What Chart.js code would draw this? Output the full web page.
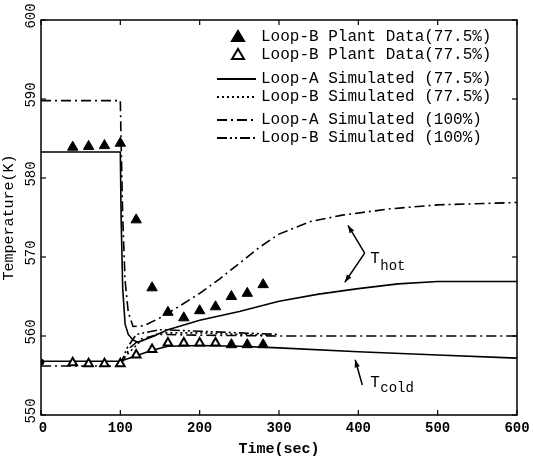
<!DOCTYPE html>
<html>
<head>
<meta charset="utf-8">
<script src="https://cdn.jsdelivr.net/npm/chart.js@4"></script>
<style>
  html, body { margin: 0; padding: 0; background: #fff; }
  #wrap { width: 533px; height: 462px; }
</style>
</head>
<body>
<div id="wrap"><canvas id="tempChart" width="533" height="462"></canvas></div>
<script>
// plant data (77.5%)
const hotPlantTime = [40, 60, 80, 100, 120, 140, 160, 180, 200, 220, 240, 260, 280];
const hotPlantTemp = [583.9, 584.0, 584.1, 584.4, 574.7, 566.1, 563.0, 562.3, 563.2, 563.7, 565.0, 565.4, 566.5];
const coldFilledTime = [240, 260, 280];
const coldFilledTemp = [558.9, 558.9, 558.9];
const coldPlantTime = [40, 60, 80, 100, 120, 140, 160, 180, 200, 220];
const coldPlantTemp = [556.6, 556.5, 556.5, 556.5, 557.6, 558.3, 559.1, 559.1, 559.1, 559.1];

// simulated 77.5%
const simAHotTime = [0, 100, 101, 103, 106, 110, 116, 122, 140, 160, 200, 250, 300, 350, 400, 450, 500, 600];
const simAHotTemp = [583.3, 583.3, 575, 566, 561.5, 560.2, 559.5, 559.2, 559.9, 560.8, 562.0, 563.1, 564.4, 565.3, 566.0, 566.6, 566.9, 566.9];
const simAColdTime = [0, 100, 120, 140, 160, 200, 250, 300, 400, 500, 600];
const simAColdTemp = [556.8, 556.8, 557.5, 558.2, 558.7, 558.8, 558.7, 558.5, 558.0, 557.6, 557.2];
const simBColdTime = [100, 110, 125, 150, 200, 250, 290];
const simBColdTemp = [556.8, 557.8, 559.3, 560.4, 560.4, 560.2, 560.1];

// simulated 100%
const fullAHotTime = [0, 100, 100.5, 103, 106, 110, 116, 130, 150, 175, 200, 225, 250, 275, 300, 340, 380, 440, 500, 600];
const fullAHotTemp = [589.8, 589.8, 587, 575, 567, 563, 561.2, 561.3, 562.3, 563.8, 565.4, 567.2, 569.2, 571.2, 572.9, 574.5, 575.3, 576.1, 576.6, 576.9];
const fullAColdTime = [0, 100, 105, 112, 125, 150, 200, 300, 600];
const fullAColdTemp = [556.2, 556.2, 557.2, 558.5, 559.6, 560.2, 560.1, 560.0, 560.0];
const fullBColdTime = [100, 108, 120, 150, 200, 250, 300];
const fullBColdTemp = [556.3, 558.4, 560.2, 560.8, 560.6, 560.4, 560.2];

const startTime = [0];
const startTemp = [556.7];

const xTicks = [0, 100, 200, 300, 400, 500, 600];
const yTicks = [550, 560, 570, 580, 590, 600];

const pts = (xs, ys) => xs.map((x, i) => ({ x: x, y: ys[i] }));

const MONO = "'Liberation Mono', 'DejaVu Sans Mono', monospace";
const DOT = [2, 3];
const DASHDOT = [10, 4, 2, 4];
const DASHDOTDOT = [10, 3, 2, 3, 2, 3];

function simLine(label, data, dash, legend) {
    return {
        label: label, data: data, showLine: true, borderColor: "#000", borderWidth: 1.6,
        borderDash: dash, pointRadius: 0, fill: false, tension: 0, legendRow: legend
    };
}

// frame, tick labels, legend inside the plot, T_hot / T_cold notes
const notesPlugin = {
    id: "notes",
    afterDraw(chart) {
        const ctx = chart.ctx;
        const xs = chart.scales.x, ys = chart.scales.y;
        const area = chart.chartArea;
        ctx.save();

        ctx.strokeStyle = "#000";
        ctx.fillStyle = "#000";
        ctx.lineWidth = 1.5;
        ctx.setLineDash([]);
        ctx.strokeRect(area.left, area.top, area.right - area.left, area.bottom - area.top);
        ctx.lineWidth = 1.2;
        ctx.textAlign = "center";
        ctx.textBaseline = "middle";
        ctx.font = "bold 14px " + MONO;
        xTicks.forEach(v => {
            const px = xs.getPixelForValue(v);
            ctx.beginPath(); ctx.moveTo(px, area.bottom); ctx.lineTo(px, area.bottom - 5); ctx.stroke();
            ctx.beginPath(); ctx.moveTo(px, area.top); ctx.lineTo(px, area.top + 5); ctx.stroke();
            ctx.fillText(String(v), px + (v === 0 ? 2 : 0), area.bottom + 13);
        });
        ctx.font = "14px " + MONO;
        yTicks.forEach(v => {
            const py = ys.getPixelForValue(v);
            ctx.beginPath(); ctx.moveTo(area.left, py); ctx.lineTo(area.left + 5, py); ctx.stroke();
            ctx.beginPath(); ctx.moveTo(area.right, py); ctx.lineTo(area.right - 5, py); ctx.stroke();
            ctx.save();
            ctx.translate(area.left - 10, py - 4);
            ctx.rotate(-Math.PI / 2);
            ctx.fillText(String(v), 0, 0);
            ctx.restore();
        });

        // legend
        const rowsY = [37, 55, 79, 97, 120, 138];
        ctx.textAlign = "left";
        ctx.font = "16px " + MONO;
        chart.data.datasets.forEach(ds => {
            if (ds.legendRow === undefined) return;
            const y = rowsY[ds.legendRow];
            if (ds.showLine) {
                ctx.lineWidth = 1.8;
                ctx.setLineDash(ds.borderDash || []);
                ctx.beginPath(); ctx.moveTo(217, y); ctx.lineTo(256, y); ctx.stroke();
                ctx.setLineDash([]);
            } else {
                ctx.beginPath();
                ctx.moveTo(238, y - 6); ctx.lineTo(244, y + 4); ctx.lineTo(232, y + 4); ctx.closePath();
                ctx.fillStyle = ds.pointBackgroundColor;
                ctx.fill();
                ctx.lineWidth = 2;
                ctx.stroke();
                ctx.fillStyle = "#000";
            }
            ctx.fillText(ds.label, 261, y);
        });

        function arrow(x1, y1, x2, y2) {
            const a = Math.atan2(y2 - y1, x2 - x1);
            ctx.beginPath(); ctx.moveTo(x1, y1); ctx.lineTo(x2, y2); ctx.stroke();
            ctx.beginPath();
            ctx.moveTo(x2, y2);
            ctx.lineTo(x2 - 8 * Math.cos(a - 0.35), y2 - 8 * Math.sin(a - 0.35));
            ctx.lineTo(x2 - 8 * Math.cos(a + 0.35), y2 - 8 * Math.sin(a + 0.35));
            ctx.closePath(); ctx.fill();
        }
        ctx.lineWidth = 1.5;
        const jx = xs.getPixelForValue(408), jy = ys.getPixelForValue(570.5);
        arrow(jx, jy, xs.getPixelForValue(387), ys.getPixelForValue(574.0));
        arrow(jx, jy, xs.getPixelForValue(383), ys.getPixelForValue(566.8));
        arrow(xs.getPixelForValue(405), ys.getPixelForValue(553.8), xs.getPixelForValue(396), ys.getPixelForValue(557.0));

        ctx.textBaseline = "alphabetic";
        ctx.font = "16px " + MONO;
        let tx = xs.getPixelForValue(415), ty = ys.getPixelForValue(569.3);
        ctx.fillText("T", tx, ty);
        ctx.font = "14px " + MONO;
        ctx.fillText("hot", tx + 10, ty + 7);
        ctx.font = "16px " + MONO;
        tx = xs.getPixelForValue(415); ty = ys.getPixelForValue(553.6);
        ctx.fillText("T", tx, ty);
        ctx.font = "14px " + MONO;
        ctx.fillText("cold", tx + 10, ty + 5);
        ctx.restore();
    }
};

const ctx = document.getElementById("tempChart").getContext("2d");
new Chart(ctx, {
    type: "scatter",
    data: {
        datasets: [
            {
                label: "Loop-B Plant Data(77.5%)", legendRow: 0,
                data: pts(hotPlantTime.concat(coldFilledTime), hotPlantTemp.concat(coldFilledTemp)),
                pointStyle: "triangle", pointRadius: 6, pointBackgroundColor: "#000",
                pointBorderColor: "#000", pointBorderWidth: 1, showLine: false
            },
            {
                label: "Loop-B Plant Data(77.5%)", legendRow: 1,
                data: pts(coldPlantTime, coldPlantTemp),
                pointStyle: "triangle", pointRadius: 5, pointBackgroundColor: "#fff",
                pointBorderColor: "#000", pointBorderWidth: 2, showLine: false
            },
            simLine("Loop-A Simulated (77.5%)", pts(simAHotTime, simAHotTemp), [], 2),
            simLine("Loop-A Simulated (77.5%)", pts(simAColdTime, simAColdTemp), []),
            simLine("Loop-B Simulated (77.5%)", pts(simBColdTime, simBColdTemp), DOT, 3),
            simLine("Loop-A Simulated (100%)", pts(fullAHotTime, fullAHotTemp), DASHDOT, 4),
            simLine("Loop-A Simulated (100%)", pts(fullAColdTime, fullAColdTemp), DASHDOT),
            simLine("Loop-B Simulated (100%)", pts(fullBColdTime, fullBColdTemp), DASHDOTDOT, 5),
            {
                label: "start", data: pts(startTime, startTemp), pointStyle: "circle",
                pointRadius: 3, pointBackgroundColor: "#000", pointBorderColor: "#000", showLine: false
            }
        ]
    },
    options: {
        responsive: false,
        animation: false,
        layout: { padding: { left: 0, right: 16, top: 20, bottom: 0 } },
        plugins: { legend: { display: false }, tooltip: { enabled: false } },
        scales: {
            x: {
                type: "linear", min: 0, max: 600,
                afterBuildTicks: s => { s.ticks = xTicks.map(v => ({ value: v })); },
                afterFit: s => { s.height = 47; },
                grid: { display: false, drawTicks: false },
                border: { display: false },
                ticks: { display: false },
                title: { display: true, text: "Time(sec)", color: "#000", font: { family: MONO, size: 15, weight: "bold" }, padding: { top: 0 } }
            },
            y: {
                type: "linear", min: 550, max: 600,
                afterBuildTicks: s => { s.ticks = yTicks.map(v => ({ value: v })); },
                afterFit: s => { s.width = 41; },
                grid: { display: false, drawTicks: false },
                border: { display: false },
                ticks: { display: false },
                title: { display: true, text: "Temperature(K)", color: "#000", font: { family: MONO, size: 15 }, padding: 0 }
            }
        }
    },
    plugins: [notesPlugin]
});
</script>
</body>
</html>
